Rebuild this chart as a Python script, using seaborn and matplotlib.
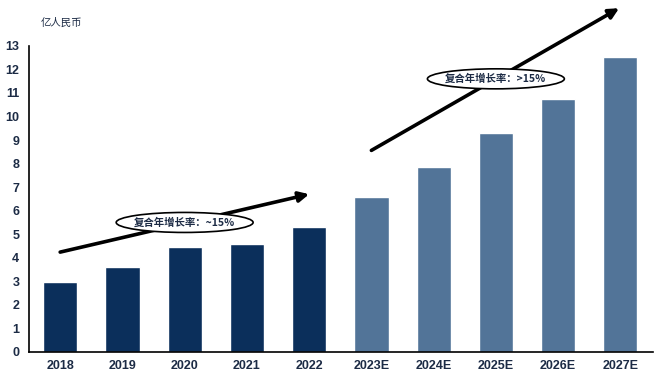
import matplotlib
matplotlib.use("Agg")
import matplotlib.pyplot as plt
import seaborn as sns
import pandas as pd
from matplotlib.patches import Ellipse

years = ['2018', '2019', '2020', '2021', '2022', '2023E', '2024E', '2025E', '2026E', '2027E']
values = [2.97, 3.61, 4.46, 4.59, 5.31, 6.57, 7.84, 9.32, 10.76, 12.54]
kind = ['actual'] * 5 + ['forecast'] * 5
unit_label = '亿人民币'
cagr_labels = ['复合年增长率：~15%', '复合年增长率：>15%']

dark = '#0b2f5b'
light = '#527498'

sns.set_style('white')
plt.rcParams['font.family'] = ['Noto Sans CJK SC', 'DejaVu Sans']

df = pd.DataFrame({'year': years, 'value': values, 'kind': kind})

fig = plt.figure(figsize=(6.6, 3.76), dpi=100)
ax = fig.add_axes([0.044, 0.064, 0.945, 0.814])
sns.barplot(data=df, x='year', y='value', hue='kind',
            palette={'actual': dark, 'forecast': light},
            width=0.55, dodge=False, legend=False, saturation=1, ax=ax)

ax.set_ylim(0, 13)
ax.set_xlim(-0.5, 9.52)
ax.set_yticks(range(0, 14))
ax.set_xlabel('')
ax.set_ylabel('')
for s in ['top', 'right']:
    ax.spines[s].set_visible(False)
for s in ['left', 'bottom']:
    ax.spines[s].set_color('black')
    ax.spines[s].set_linewidth(1.2)
ax.tick_params(axis='y', direction='out', length=4, width=1.2, color='black',
               labelsize=9, labelcolor='#1c2b45', pad=3)
ax.tick_params(axis='x', length=0, labelsize=9, labelcolor='#1c2b45', pad=6)
for lab in ax.get_xticklabels() + ax.get_yticklabels():
    lab.set_fontweight('bold')
    lab.set_family('Liberation Sans')

fig.text(0.062, 0.94, unit_label, fontsize=7.5, color='#1c2b45', ha='left', va='center')

# trend arrows
arrow = dict(arrowstyle='-|>,head_length=0.6,head_width=0.3', color='black', lw=2.6,
             shrinkA=0, shrinkB=0)
ax.annotate('', xy=(4.0, 6.7), xytext=(0.0, 4.24), arrowprops=arrow, annotation_clip=False)
ax.annotate('', xy=(8.98, 14.6), xytext=(5.0, 8.56), arrowprops=arrow, annotation_clip=False)

# CAGR callouts
for (cx, cy), txt in zip([(2.0, 5.5), (7.0, 11.6)], cagr_labels):
    e = Ellipse((cx, cy), 2.2, 0.85, facecolor='white', edgecolor='black', lw=1.2,
                zorder=5, clip_on=False)
    ax.add_patch(e)
    ax.text(cx, cy, txt, fontsize=7.5, fontweight='bold', color='#1c2b45',
            ha='center', va='center', zorder=6)

fig.savefig('out.png', dpi=100)
